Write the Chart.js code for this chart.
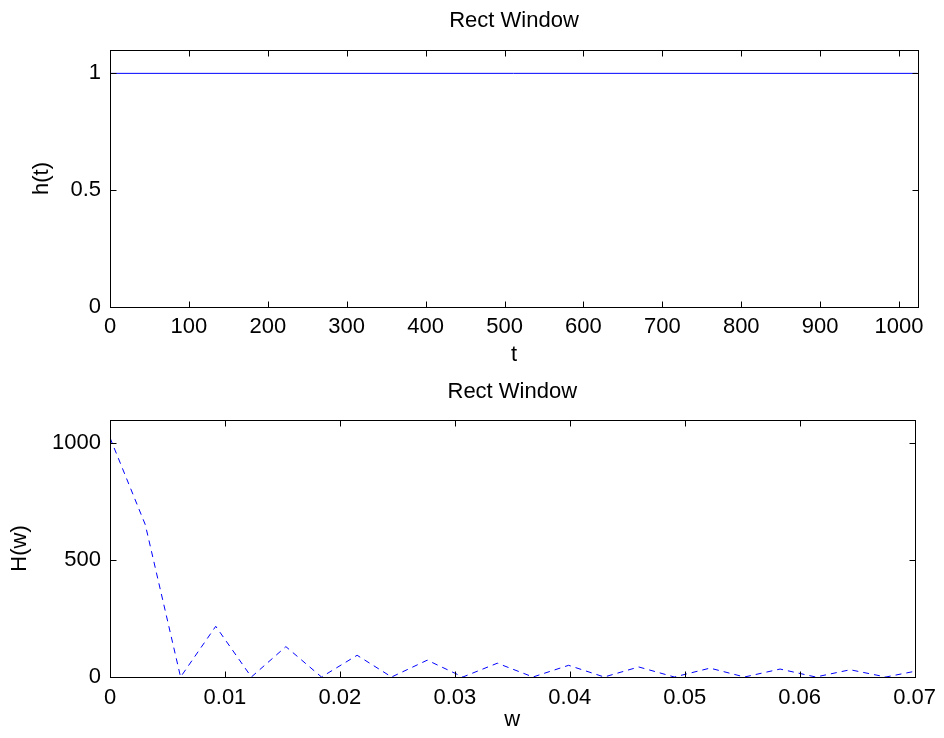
<!DOCTYPE html>
<html>
<head>
<meta charset="utf-8">
<script src="https://cdn.jsdelivr.net/npm/chart.js@4.4.0/dist/chart.umd.min.js"></script>
<style>
html, body { margin: 0; padding: 0; background: #fff; }
#wrap { position: relative; width: 944px; height: 738px; }
canvas { position: absolute; left: 0; }
</style>
</head>
<body>
<div id="wrap">
    <canvas id="timeChart" width="944" height="369" style="top:0"></canvas>
    <canvas id="freqChart" width="944" height="369" style="top:369px"></canvas>
</div>
<script>
// Top plot: rectangular window in time
const tValues = [0, 1023];
const hValues = [1, 1];
const tTicks = [0, 100, 200, 300, 400, 500, 600, 700, 800, 900, 1000];
const hTicks = [0, 0.5, 1];

// Bottom plot: magnitude of its spectrum
const wValues = [0, 0.00307, 0.00614, 0.0092, 0.0123, 0.0153, 0.0184, 0.0215, 0.0245, 0.0276,
                 0.0307, 0.0337, 0.0368, 0.0399, 0.0430, 0.0460, 0.0491, 0.0522, 0.0552, 0.0583,
                 0.0614, 0.0644, 0.0675, 0.0706];
const HValues = [1024, 652, 0, 217, 0, 130, 0, 93, 0, 72,
                 0, 59, 0, 50, 0, 43, 0, 38, 0, 34,
                 0, 31, 0, 30];
const wTicks = [0, 0.01, 0.02, 0.03, 0.04, 0.05, 0.06, 0.07];
const HTicks = [0, 500, 1000];

const FONT = "'Liberation Sans', Arial, sans-serif";
const FS = 22;
Chart.defaults.font.family = FONT;
Chart.defaults.color = '#000';

// MATLAB-style box with inward tick marks on all four sides, plus centred title
const boxTicks = {
    id: 'boxTicks',
    afterDatasetsDraw(chart, args, opts) {
        const { ctx, chartArea: a, scales } = chart;
        const L = Math.round(a.left) + 0.5, R = Math.round(a.right) + 0.5;
        const T = Math.round(a.top) + 0.5, B = Math.round(a.bottom) + 0.5;
        ctx.save();
        ctx.strokeStyle = '#000';
        ctx.lineWidth = 1;
        ctx.beginPath();
        scales.x.ticks.forEach(t => {
            const px = Math.round(scales.x.getPixelForValue(t.value)) + 0.5;
            ctx.moveTo(px, B); ctx.lineTo(px, B - 6);
            ctx.moveTo(px, T); ctx.lineTo(px, T + 6);
        });
        scales.y.ticks.forEach(t => {
            const py = Math.round(scales.y.getPixelForValue(t.value)) + 0.5;
            ctx.moveTo(L, py); ctx.lineTo(L + 6, py);
            ctx.moveTo(R, py); ctx.lineTo(R - 6, py);
        });
        ctx.stroke();
        ctx.strokeRect(L, T, R - L, B - T);

        ctx.fillStyle = '#000';
        ctx.font = FS + 'px ' + FONT;
        ctx.textAlign = 'center';
        ctx.textBaseline = 'middle';
        ctx.fillText(opts.text, (a.left + a.right) / 2, opts.y);
        ctx.restore();
    }
};

function makeChart(id, xs, ys, cfg) {
    const ctx = document.getElementById(id).getContext('2d');
    return new Chart(ctx, {
        type: 'line',
        data: {
            datasets: [{
                data: xs.map((x, i) => ({ x: x, y: ys[i] })),
                borderColor: '#0000ff',
                borderWidth: 1,
                borderDash: cfg.dash,
                pointRadius: 0,
                tension: 0,
                fill: false
            }]
        },
        options: {
            responsive: false,
            animation: false,
            layout: { padding: { left: 0, right: 26, top: cfg.top, bottom: 0 } },
            plugins: {
                legend: { display: false },
                tooltip: { enabled: false },
                title: { display: false },
                boxTicks: { text: 'Rect Window', y: cfg.titleY }
            },
            scales: {
                x: {
                    type: 'linear',
                    min: cfg.xMin, max: cfg.xMax,
                    grid: { display: false, drawTicks: false },
                    border: { display: false },
                    ticks: {
                        autoSkip: false, maxRotation: 0, padding: cfg.xTickPad,
                        font: { size: FS },
                        callback: v => String(v)
                    },
                    afterBuildTicks: s => { s.ticks = cfg.xTicks.map(v => ({ value: v })); },
                    title: { display: true, text: cfg.xLabel, font: { size: FS }, padding: cfg.xTitlePad },
                    afterFit: s => { s.height = cfg.xHeight; }
                },
                y: {
                    min: 0, max: cfg.yMax,
                    grid: { display: false, drawTicks: false },
                    border: { display: false },
                    ticks: {
                        padding: 9,
                        font: { size: FS },
                        callback: v => String(v)
                    },
                    afterBuildTicks: s => { s.ticks = cfg.yTicks.map(v => ({ value: v })); },
                    title: { display: true, text: cfg.yLabel, font: { size: FS }, padding: cfg.yTitlePad },
                    afterFit: s => { s.width = 110; }
                }
            }
        },
        plugins: [boxTicks]
    });
}

makeChart('timeChart', tValues, hValues, {
    dash: [], xMin: 0, xMax: 1024, xTicks: tTicks, yMax: 1.1, yTicks: hTicks,
    xLabel: 't', yLabel: 'h(t)',
    top: 50, titleY: 21, xTickPad: 7, xTitlePad: { top: 0, bottom: 1 },
    xHeight: 62, yTitlePad: { top: 29, bottom: 0 }
});

makeChart('freqChart', wValues, HValues, {
    dash: [6, 5], xMin: 0, xMax: 0.07, xTicks: wTicks, yMax: 1100, yTicks: HTicks,
    xLabel: 'w', yLabel: 'H(w)',
    top: 51, titleY: 23, xTickPad: 8, xTitlePad: { top: 0, bottom: 5 },
    xHeight: 61, yTitlePad: { top: 7, bottom: 0 }
});
</script>
</body>
</html>
